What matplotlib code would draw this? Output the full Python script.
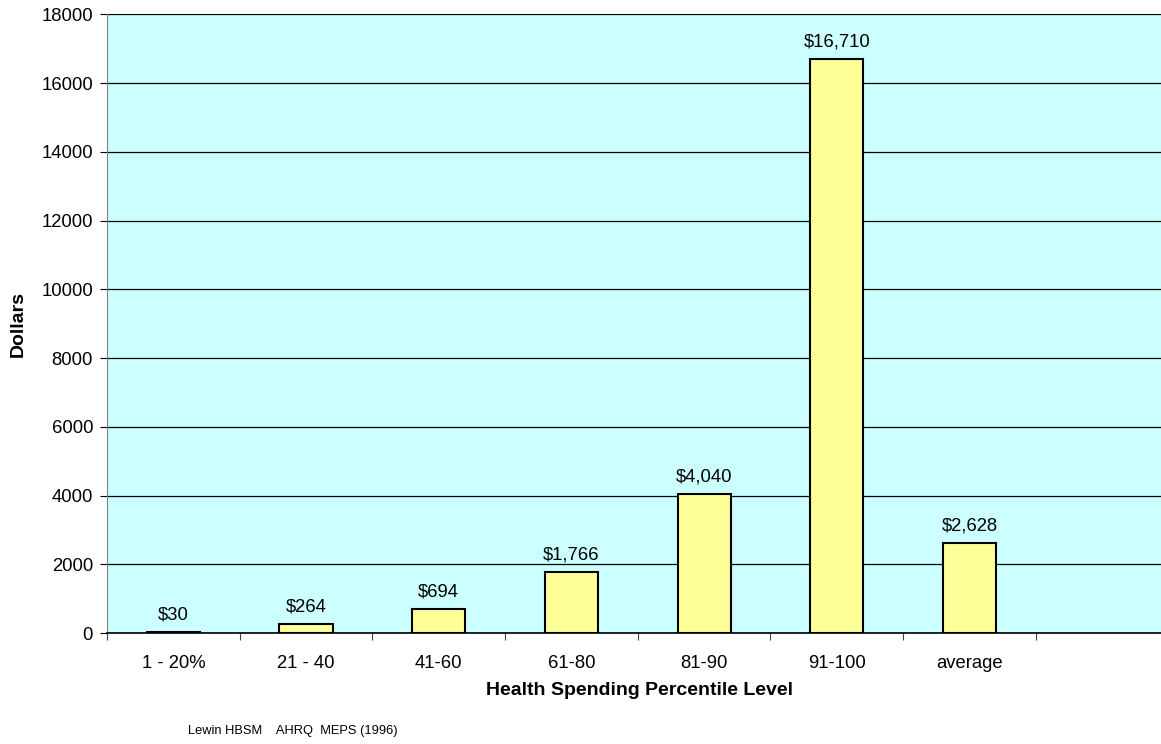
import matplotlib
matplotlib.use("Agg")
import matplotlib.pyplot as plt

plt.rcParams['font.family'] = ['Liberation Sans', 'DejaVu Sans']

categories = ["1 - 20%", "21 - 40", "41-60", "61-80", "81-90", "91-100", "average"]
values = [30, 264, 694, 1766, 4040, 16710, 2628]
value_labels = ["$30", "$264", "$694", "$1,766", "$4,040", "$16,710", "$2,628"]
yticks = [0, 2000, 4000, 6000, 8000, 10000, 12000, 14000, 16000, 18000]

W, H = 1161, 744
fig = plt.figure(figsize=(W / 100, H / 100), dpi=100)
left, right, top, bottom = 107, 1168.5, 14.3, 633
ax = fig.add_axes([left / W, 1 - bottom / H, (right - left) / W, (bottom - top) / H])
ax.set_facecolor("#CCFFFF")

fs = 13.3
x = list(range(len(categories)))
ax.bar(x, values, width=0.4, color="#FFFF99", edgecolor="black", linewidth=1.5, zorder=3)
for xi, v, lab in zip(x, values, value_labels):
    ax.annotate(lab, (xi, v), xytext=(0, 6), textcoords="offset points",
                ha="center", va="bottom", fontsize=fs)

ax.set_xlim(-0.5, 7.5)
ax.set_ylim(0, 18000)
ax.set_yticks(yticks)
ax.set_yticklabels([str(t) for t in yticks], fontsize=fs)
ax.yaxis.grid(True, color="black", linewidth=0.9, zorder=1)
ax.set_axisbelow(True)

ax.set_xticks([i - 0.5 for i in range(8)])
ax.set_xticklabels([])
ax.set_xticks(x, minor=True)
ax.set_xticklabels(categories, minor=True, fontsize=fs)
ax.tick_params(axis="x", which="minor", length=0, pad=16)
ax.tick_params(axis="x", which="major", length=5, direction="out", color="#444444")
ax.tick_params(axis="y", length=5, direction="out", pad=5)

for s in ["top", "right"]:
    ax.spines[s].set_visible(False)
ax.spines["left"].set_color("#808080")
ax.spines["bottom"].set_color("black")
ax.spines["bottom"].set_linewidth(1.2)

ax.set_ylabel("Dollars", fontsize=14, fontweight="bold")
ax.set_xlabel("Health Spending Percentile Level", fontsize=14, fontweight="bold")
ax.xaxis.set_label_coords((640 - left) / (right - left), -(682 - bottom) / (bottom - top))
ax.yaxis.set_label_coords(-(107 - 27) / (right - left), (bottom - 324) / (bottom - top))

fig.text(188 / W, 1 - 731 / H, "Lewin HBSM    AHRQ  MEPS (1996)", fontsize=9.3, ha="left", va="center")

fig.savefig("out.png", dpi=100)
